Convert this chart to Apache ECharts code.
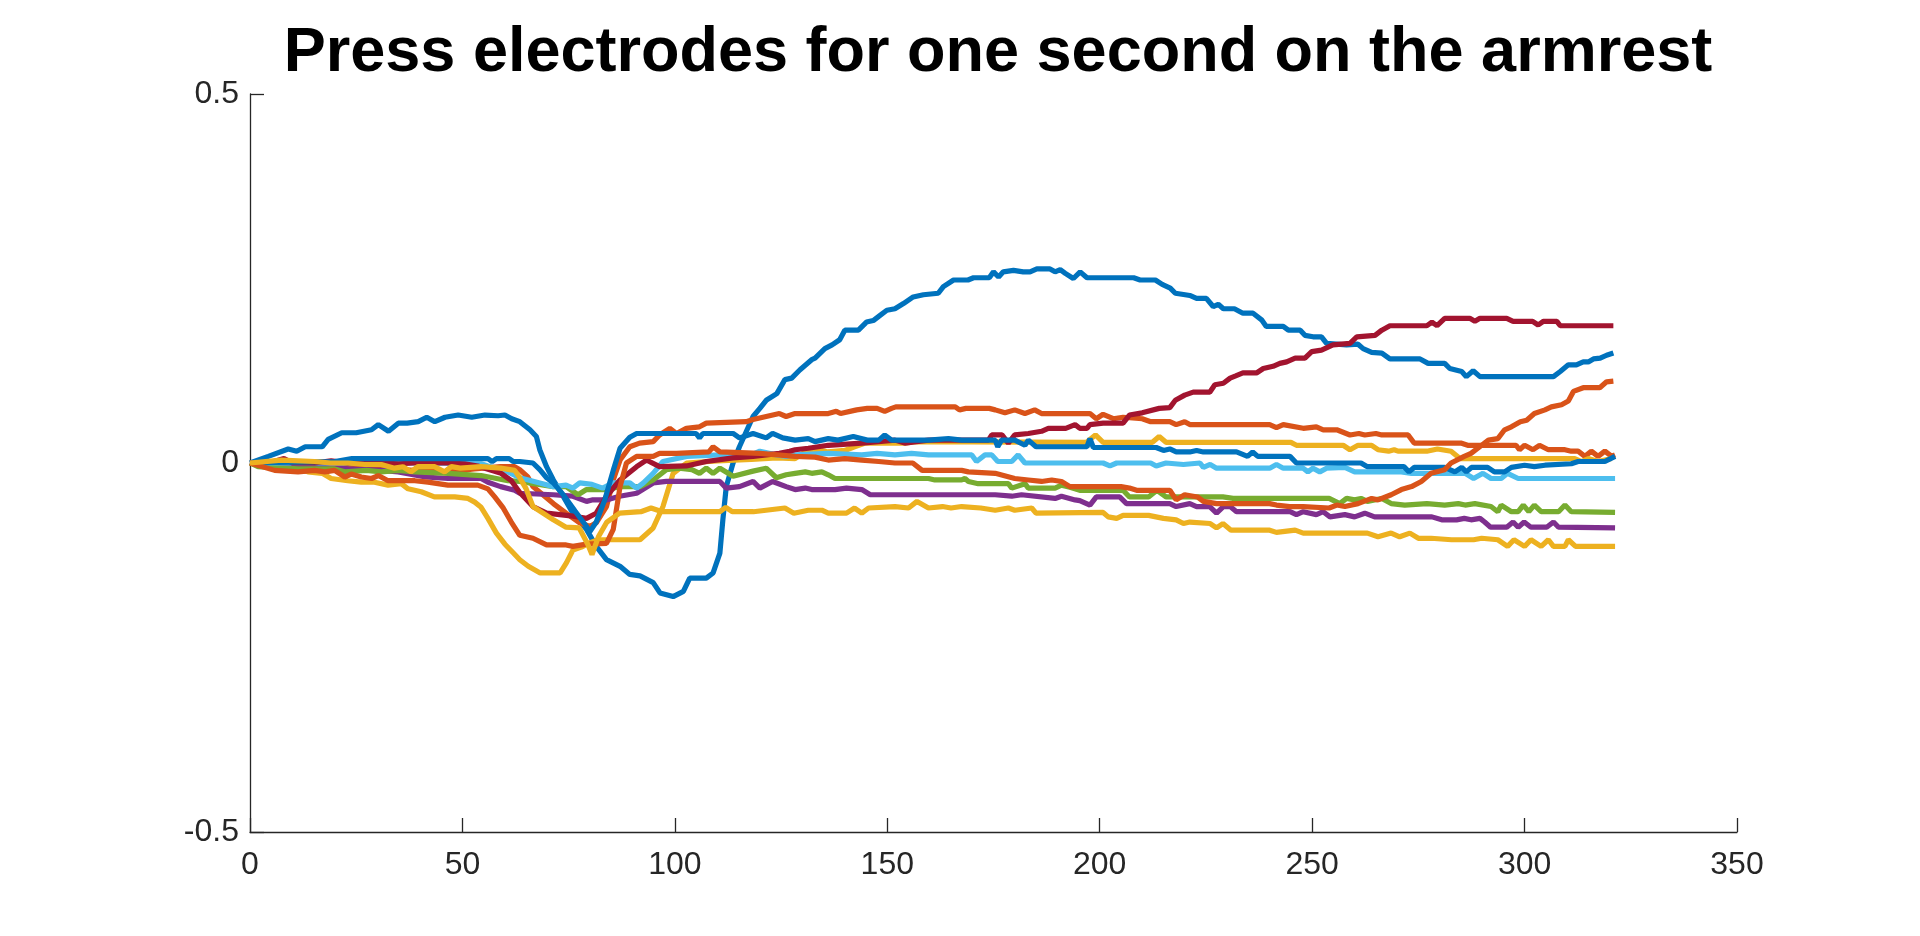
<!DOCTYPE html>
<html>
<head>
<meta charset="utf-8">
<script src="https://cdn.jsdelivr.net/npm/echarts@6/dist/echarts.min.js"></script>
<style>
  html, body { margin: 0; padding: 0; background: #fff; }
  #main { width: 1920px; height: 936px; }
</style>
</head>
<body>
<div id="main"></div>
<script>
// [x, y] points, one array per trace
const blueTop = [[0,0],[4.3,0.009],[9,0.019],[11,0.016],[13,0.022],[17,0.022],[18.4,0.032],[21.6,0.041],[25,0.041],[28.6,0.045],[30.2,0.052],[32.6,0.043],[34.9,0.054],[37,0.054],[39.6,0.056],[41.6,0.062],[43.5,0.056],[45.9,0.062],[49,0.065],[52.2,0.062],[55.3,0.065],[58.4,0.064],[60,0.065],[61.6,0.06],[63.5,0.056],[65.9,0.045],[67.4,0.036],[68.2,0.018],[69.8,-0.005],[71.4,-0.023],[73.7,-0.045],[76,-0.068],[79.2,-0.09],[81.5,-0.113],[83.9,-0.131],[87.1,-0.14],[89.4,-0.151],[91.8,-0.153],[94.9,-0.162],[96.5,-0.176],[99.6,-0.181],[102,-0.174],[103.5,-0.156],[107.4,-0.156],[109,-0.149],[110.6,-0.122],[111.3,-0.077],[112.1,-0.032],[113.7,0],[115.2,0.022],[118.4,0.063],[120,0.074],[121.5,0.085],[124,0.094],[125.9,0.113],[127.5,0.115],[129.4,0.126],[132.2,0.14],[133,0.142],[135.3,0.155],[137,0.16],[138.8,0.167],[140,0.18],[143.2,0.18],[145.1,0.191],[146.7,0.193],[148.3,0.2],[149.9,0.207],[151.8,0.209],[153.8,0.216],[156.1,0.225],[158.5,0.228],[162,0.23],[163.2,0.239],[165.6,0.248],[169,0.248],[170.3,0.251],[174,0.251],[175,0.259],[176.2,0.252],[177.3,0.259],[179.7,0.261],[182,0.259],[183.6,0.259],[185.2,0.263],[188.3,0.263],[189.5,0.259],[190.7,0.262],[191.9,0.257],[193.8,0.25],[195.4,0.259],[197,0.251],[208,0.251],[209.5,0.248],[213.1,0.248],[214.7,0.242],[216.6,0.237],[217.8,0.23],[220.1,0.228],[221.2,0.227],[222.8,0.223],[225.1,0.223],[226.7,0.212],[227.9,0.215],[229.1,0.209],[231.7,0.209],[233.7,0.203],[236.1,0.203],[238.1,0.194],[239.2,0.185],[243.2,0.185],[244.4,0.18],[247.2,0.18],[248.3,0.173],[250.2,0.171],[252.2,0.171],[253.4,0.162],[258.1,0.16],[260.8,0.161],[262,0.155],[264,0.15],[266.4,0.149],[268.3,0.141],[275.4,0.141],[277.3,0.135],[281.2,0.135],[282.4,0.128],[285.2,0.124],[286.3,0.117],[287.9,0.125],[289.5,0.117],[306.8,0.117],[308.4,0.124],[310.3,0.133],[312.2,0.133],[313.8,0.137],[315,0.137],[316.2,0.141],[317.8,0.142],[319.3,0.146],[320.9,0.149]];

const orangeUpper = [[0,0],[7.4,-0.005],[11,-0.008],[15,-0.005],[23,-0.005],[31,-0.008],[39,-0.01],[46.6,-0.012],[52.8,-0.008],[59,-0.005],[62.3,-0.005],[63.5,-0.009],[65.4,-0.019],[66.6,-0.032],[71.4,-0.055],[74.4,-0.068],[77.6,-0.081],[80,-0.086],[81.5,-0.081],[83.9,-0.059],[85.5,-0.023],[87.1,0.004],[89.4,0.022],[91.7,0.027],[94.9,0.029],[96.4,0.038],[98.8,0.047],[100.4,0.04],[102.7,0.047],[105.8,0.049],[107.4,0.054],[116.8,0.056],[118.4,0.059],[124.6,0.067],[126.2,0.063],[128.3,0.067],[136.1,0.067],[138,0.07],[139,0.067],[142.8,0.072],[145.3,0.074],[147.6,0.074],[149.4,0.07],[151,0.074],[152,0.076],[166,0.076],[167,0.072],[168.5,0.074],[174,0.074],[175.4,0.072],[177.7,0.068],[180,0.072],[182.4,0.067],[184.7,0.072],[186.3,0.067],[197.7,0.067],[199.2,0.06],[200.8,0.066],[203.2,0.06],[205.5,0.062],[210,0.06],[212,0.056],[216.5,0.056],[218,0.052],[220,0.056],[221.2,0.052],[240,0.052],[241.6,0.048],[243.2,0.052],[247.9,0.047],[251,0.049],[252.6,0.045],[255.8,0.045],[258.9,0.038],[261,0.04],[262.4,0.038],[265,0.04],[266.4,0.038],[272.6,0.038],[274,0.027],[285,0.027],[286.6,0.024],[298,0.024],[298.8,0.018],[300,0.024],[302,0.018],[303.5,0.024],[305.6,0.018],[309.5,0.018],[311,0.016],[312.6,0.016],[314.2,0.009],[315.7,0.016],[317.3,0.009],[318.9,0.016],[320.5,0.009],[321.3,0.011]];

const yellowDip = [[0,0],[7.4,0],[10.5,-0.007],[13.6,-0.012],[17,-0.014],[19.1,-0.021],[23,-0.024],[26.2,-0.026],[29.3,-0.026],[32.5,-0.03],[35.6,-0.028],[37.2,-0.035],[40.3,-0.039],[43.4,-0.046],[48.2,-0.046],[51.3,-0.048],[52.9,-0.053],[54.4,-0.06],[56,-0.075],[58,-0.095],[60,-0.11],[62,-0.122],[63.5,-0.131],[65.5,-0.14],[68.3,-0.149],[73,-0.149],[74.5,-0.135],[76,-0.118],[78,-0.114],[80,-0.108],[82,-0.104],[91.8,-0.104],[94.9,-0.088],[97.2,-0.059],[99.6,-0.014],[102.8,0],[110,0.003],[118,0.005],[124,0.007],[128.3,0.006],[130.7,0.015],[134.6,0.017],[136.1,0.015],[140,0.017],[142.3,0.022],[144.8,0.027],[154.1,0.027],[156.6,0.029],[196.9,0.028],[199,0.038],[200.8,0.028],[212.4,0.028],[214,0.036],[215.6,0.028],[245,0.028],[246.3,0.024],[257.3,0.024],[258.9,0.018],[260.8,0.024],[264,0.024],[265.5,0.018],[268,0.016],[269.3,0.018],[270.2,0.016],[277,0.016],[279.5,0.019],[282.7,0.016],[284.8,0.006],[311.8,0.006],[313.4,0.002],[315,0.006],[317.3,0.002],[320.5,0.006]];

const purple = [[0,0],[5,-0.002],[15.2,-0.003],[23.1,-0.008],[30.9,-0.01],[34.9,-0.012],[41.3,-0.019],[46.6,-0.021],[54.4,-0.021],[56,-0.026],[59,-0.032],[62.3,-0.037],[63.5,-0.041],[71.4,-0.043],[76,-0.045],[79.2,-0.052],[80.5,-0.05],[83.9,-0.05],[87,-0.045],[91,-0.041],[94.9,-0.027],[98,-0.025],[110.6,-0.025],[112.1,-0.034],[115.2,-0.032],[118.4,-0.025],[120,-0.034],[123,-0.025],[126.2,-0.032],[128.3,-0.036],[130.7,-0.034],[132.2,-0.036],[137.7,-0.036],[140.4,-0.034],[144,-0.036],[146,-0.043],[175.4,-0.043],[179.3,-0.045],[181.6,-0.043],[189.5,-0.048],[191,-0.045],[194.2,-0.05],[195.3,-0.051],[197.7,-0.057],[199.2,-0.046],[204.7,-0.046],[206.3,-0.055],[216.5,-0.055],[218,-0.059],[221.2,-0.055],[222.8,-0.059],[225.9,-0.059],[227.5,-0.068],[229.1,-0.059],[230.7,-0.059],[232.2,-0.066],[244.8,-0.066],[246.3,-0.07],[247.9,-0.066],[251,-0.07],[252.6,-0.066],[254.2,-0.073],[257.7,-0.07],[260,-0.073],[262.4,-0.068],[264.7,-0.073],[278.2,-0.073],[280.5,-0.077],[284,-0.077],[285.8,-0.075],[287.4,-0.077],[289.5,-0.075],[290.6,-0.08],[292,-0.087],[295.8,-0.087],[297.3,-0.08],[298.5,-0.087],[299.9,-0.08],[301.5,-0.087],[305.2,-0.087],[306.8,-0.08],[308,-0.087],[321.3,-0.088]];

const green = [[0,0],[1.9,-0.005],[11.3,-0.008],[19.9,-0.008],[22.3,-0.012],[27.4,-0.01],[30.9,-0.012],[34.9,-0.01],[38.8,-0.012],[46.6,-0.014],[54.4,-0.017],[60.7,-0.024],[63.5,-0.025],[71.4,-0.032],[74.4,-0.032],[77.2,-0.043],[79.2,-0.036],[83.9,-0.036],[87.1,-0.032],[91.8,-0.032],[94.9,-0.023],[98,-0.009],[101,-0.007],[104,-0.009],[105.8,-0.014],[107.4,-0.007],[109,-0.014],[110.6,-0.007],[113.7,-0.018],[118.4,-0.011],[121.5,-0.007],[123.9,-0.02],[126.2,-0.016],[128.3,-0.014],[130.7,-0.012],[132.2,-0.014],[134.6,-0.012],[136.1,-0.016],[137.7,-0.021],[159.7,-0.021],[161.2,-0.023],[167.5,-0.023],[168.3,-0.021],[169.1,-0.025],[171.4,-0.028],[178.5,-0.028],[179.3,-0.034],[182.4,-0.028],[183.2,-0.034],[189.5,-0.034],[191,-0.03],[193,-0.033],[195.3,-0.037],[205.5,-0.037],[207,-0.046],[211.5,-0.046],[213.5,-0.037],[215.6,-0.046],[229,-0.046],[231.4,-0.048],[254,-0.048],[256.5,-0.055],[258.1,-0.048],[260,-0.05],[261.5,-0.048],[263,-0.052],[266.4,-0.048],[268.6,-0.055],[271.8,-0.057],[277,-0.055],[281.2,-0.057],[284.4,-0.055],[286,-0.057],[288.3,-0.055],[292.1,-0.059],[293.7,-0.066],[294.5,-0.057],[296.9,-0.066],[298.5,-0.066],[299.7,-0.057],[301,-0.066],[302.3,-0.057],[303.9,-0.066],[308,-0.066],[309.5,-0.057],[311,-0.066],[321.3,-0.067]];

const lightBlue = [[0,0],[20,0],[40,0],[54.4,-0.001],[56,-0.004],[60.7,-0.012],[63.5,-0.02],[68.2,-0.027],[71.4,-0.032],[74.4,-0.03],[76,-0.034],[77.6,-0.027],[80.5,-0.029],[83,-0.034],[85.5,-0.027],[89.4,-0.027],[91,-0.034],[92.6,-0.027],[94.9,-0.014],[97.2,0.002],[102.8,0.009],[110.6,0.011],[118.4,0.012],[120,0.016],[123,0.012],[126.2,0.009],[128.3,0.011],[136.1,0.013],[144,0.011],[147.6,0.013],[151.8,0.011],[155.7,0.013],[159.7,0.011],[169.9,0.011],[171,0.002],[173,0.011],[174.6,0.011],[176,0.002],[179.3,0.002],[180.8,0.011],[182.4,0],[200.8,0],[202.4,-0.004],[204,0],[212,0],[213.3,-0.004],[215.6,0],[219.7,-0.002],[223.6,0],[224.4,-0.006],[226,-0.002],[227.5,-0.007],[240,-0.007],[241.6,-0.002],[243.2,-0.007],[247.9,-0.007],[249,-0.012],[250.2,-0.007],[251.8,-0.012],[253.4,-0.007],[257.7,-0.006],[260,-0.012],[271,-0.012],[273.4,-0.014],[286,-0.014],[288,-0.021],[290.2,-0.014],[292.1,-0.021],[294.5,-0.021],[296,-0.014],[298.5,-0.021],[321.3,-0.021]];

const darkRed = [[0,0],[5,0.001],[8,0.006],[10,0],[15.2,0],[19.1,0.003],[23,0],[26.6,0.003],[30.9,0],[35,-0.001],[38.8,0],[46.6,0],[50.5,-0.001],[53.6,-0.004],[56.8,-0.01],[59.1,-0.014],[61.5,-0.024],[63.5,-0.04],[66.6,-0.059],[69.8,-0.068],[72.9,-0.07],[76,-0.072],[79.2,-0.075],[81.5,-0.068],[83.9,-0.045],[87.1,-0.023],[91,-0.005],[93.3,0.004],[96.4,-0.005],[102.7,-0.004],[107.4,0.002],[113.7,0.007],[118.4,0.009],[124.6,0.013],[127,0.016],[128.3,0.018],[131.4,0.02],[136.1,0.024],[144,0.027],[147.9,0.029],[151.8,0.031],[154.1,0.027],[159.7,0.031],[173.8,0.031],[174.6,0.038],[177,0.038],[178.5,0.027],[180,0.038],[183.2,0.04],[186.3,0.043],[187.9,0.047],[192,0.047],[194.2,0.052],[195.3,0.047],[197,0.047],[197.7,0.052],[200.8,0.054],[205.5,0.054],[207,0.065],[210,0.068],[214,0.074],[216.5,0.075],[217.8,0.085],[220,0.092],[222,0.096],[225.9,0.096],[227.1,0.106],[229.1,0.108],[230.7,0.115],[232,0.118],[233.7,0.122],[236.9,0.122],[238.5,0.128],[240.8,0.131],[242.4,0.135],[244,0.137],[246,0.142],[248.3,0.142],[249.9,0.151],[252.2,0.153],[254.9,0.16],[258.9,0.162],[260.5,0.171],[264.8,0.173],[266.4,0.18],[268.3,0.186],[277,0.186],[278.2,0.191],[279.4,0.186],[281.2,0.196],[287.1,0.196],[288.3,0.192],[289.5,0.196],[295.8,0.196],[297.3,0.192],[301.9,0.192],[303.2,0.187],[304.4,0.192],[307.6,0.192],[308.4,0.186],[320.9,0.186]];

const blueFlat = [[0,0],[10,0.001],[20,0.002],[24,0.006],[56,0.006],[57,0.002],[58,0.006],[61,0.006],[62,0.002],[63.5,0.002],[66.6,0],[68.2,-0.009],[69.8,-0.02],[71.4,-0.027],[74,-0.045],[76.5,-0.065],[79.2,-0.086],[80,-0.093],[81.5,-0.08],[83.5,-0.05],[85.5,-0.01],[87.1,0.02],[89.4,0.035],[91,0.04],[105,0.04],[105.8,0.034],[106.6,0.04],[113.7,0.04],[115.2,0.034],[118.4,0.04],[121.5,0.034],[123,0.04],[125.4,0.034],[128.3,0.031],[131.4,0.033],[133,0.029],[136.1,0.033],[138.4,0.031],[142,0.036],[145.3,0.031],[148,0.031],[149.4,0.038],[151,0.031],[159.7,0.031],[164.4,0.033],[167.5,0.031],[175.4,0.031],[176,0.022],[176.9,0.031],[180,0.031],[182.4,0.024],[183.2,0.031],[185,0.022],[197,0.022],[197.7,0.033],[198.5,0.021],[213.3,0.021],[215,0.017],[216.5,0.019],[218,0.015],[221.2,0.015],[222.8,0.017],[224.4,0.015],[232.2,0.015],[234.8,0.009],[236,0.015],[237.2,0.009],[244.8,0.009],[246.3,0],[261.5,0],[263,-0.005],[271.6,-0.005],[272.8,-0.012],[274,-0.006],[281.2,-0.006],[283.6,-0.012],[285.2,-0.006],[286.3,-0.012],[287.5,-0.006],[291.3,-0.006],[292.9,-0.012],[295.3,-0.012],[296.9,-0.006],[300,-0.003],[302.3,-0.005],[304.8,-0.003],[311,-0.001],[312.6,0.002],[318.9,0.002],[321.3,0.009]];

const orangeLower = [[0,0],[5.8,-0.01],[11.3,-0.012],[15.2,-0.01],[17.6,-0.012],[19.9,-0.01],[22.3,-0.019],[23.8,-0.015],[26.2,-0.019],[28.6,-0.021],[30.2,-0.017],[32.5,-0.024],[38.8,-0.024],[41.9,-0.026],[46.6,-0.03],[53.6,-0.03],[56,-0.035],[57.6,-0.046],[59.5,-0.06],[61.5,-0.08],[63.5,-0.098],[66.6,-0.102],[69.8,-0.111],[74.4,-0.111],[76,-0.113],[79.2,-0.11],[83.9,-0.109],[85.5,-0.09],[87.1,-0.032],[88.6,0],[91,0.009],[94.9,0.009],[96.4,0.013],[100.4,0.013],[108,0.015],[109,0.022],[110.6,0.015],[120,0.013],[128.3,0.009],[133,0.008],[136.1,0.004],[140,0.006],[144,0.004],[148,0.002],[151.8,0],[156,0],[158.2,-0.01],[167.5,-0.01],[169.1,-0.012],[175.4,-0.014],[180,-0.021],[183.2,-0.023],[186.3,-0.025],[188.7,-0.023],[191,-0.025],[193,-0.032],[205,-0.032],[207,-0.034],[208.7,-0.037],[216.5,-0.037],[218,-0.05],[220,-0.043],[223,-0.046],[224.4,-0.052],[227.5,-0.055],[240,-0.055],[241.6,-0.057],[244.7,-0.059],[247.9,-0.059],[254,-0.061],[255.8,-0.057],[257.7,-0.059],[260.8,-0.055],[264,-0.048],[265.5,-0.05],[268.6,-0.043],[271,-0.036],[273.4,-0.032],[275.7,-0.025],[278,-0.014],[281.2,-0.009],[282.7,0],[285.8,0.009],[287.4,0.013],[289.9,0.024],[291.5,0.031],[293.7,0.033],[295.3,0.045],[296.9,0.049],[299,0.056],[300.5,0.058],[302.3,0.067],[304.8,0.072],[306.3,0.076],[308.7,0.079],[310.3,0.084],[311.5,0.097],[313.8,0.102],[317.7,0.102],[319.3,0.11],[320.9,0.111]];

const yellowFlat = [[0,0],[7.4,0.004],[15.2,0.002],[19,0],[23.1,0],[27,-0.002],[30.9,-0.002],[34,-0.007],[36,-0.005],[37.9,-0.012],[39.5,-0.005],[43.4,-0.005],[45.8,-0.012],[47.4,-0.005],[49.5,-0.007],[54.4,-0.005],[59,-0.007],[62.3,-0.01],[63.5,-0.02],[65,-0.035],[66.6,-0.059],[71.4,-0.077],[74.4,-0.087],[77.5,-0.088],[79.5,-0.11],[80.5,-0.124],[82,-0.1],[84,-0.08],[87,-0.068],[92,-0.066],[94.4,-0.061],[97,-0.066],[110.6,-0.066],[112,-0.06],[113.5,-0.066],[118.5,-0.066],[125.9,-0.061],[128,-0.068],[131.4,-0.064],[134.6,-0.064],[136.1,-0.068],[140.4,-0.068],[142.3,-0.061],[144,-0.068],[145.6,-0.061],[151.8,-0.059],[155,-0.061],[157,-0.052],[159.7,-0.061],[163,-0.059],[165,-0.061],[167.5,-0.059],[172,-0.061],[175.4,-0.064],[178.5,-0.061],[180,-0.064],[184,-0.061],[185,-0.068],[200.8,-0.067],[202,-0.073],[204,-0.075],[205.5,-0.071],[211.5,-0.071],[215,-0.075],[218,-0.077],[219.7,-0.082],[221.2,-0.08],[226,-0.082],[227.5,-0.088],[229,-0.082],[230.9,-0.091],[240,-0.091],[241.6,-0.094],[246,-0.091],[247.9,-0.095],[263,-0.095],[265.5,-0.1],[268.6,-0.095],[270.6,-0.1],[273,-0.095],[275,-0.102],[278,-0.102],[282.8,-0.104],[288,-0.104],[289.9,-0.102],[293.7,-0.104],[296,-0.113],[297.5,-0.104],[300,-0.113],[301.5,-0.104],[303.9,-0.113],[305.6,-0.104],[306.8,-0.113],[309.5,-0.113],[310.3,-0.104],[312,-0.113],[321.3,-0.113]];

const traces = [blueTop, orangeUpper, yellowDip, purple, green, lightBlue, darkRed, blueFlat, orangeLower, yellowFlat];
const colors = ['#0072BD', '#D95319', '#EDB120', '#7E2F8E', '#77AC30', '#4DBEEE', '#A2142F', '#0072BD', '#D95319', '#EDB120'];

const chart = echarts.init(document.getElementById('main'));
const font = '"Liberation Sans", Arial, Helvetica, sans-serif';
const axisColor = '#262626';

chart.setOption({
  animation: false,
  title: {
    text: 'Press electrodes for one second on the armrest',
    left: 993,
    top: 17,
    textAlign: 'center',
    textStyle: { fontFamily: font, fontSize: 63, fontWeight: 'bold', color: '#000' }
  },
  grid: { left: 250, right: 183, top: 94, bottom: 104 },
  xAxis: {
    type: 'value',
    min: 0, max: 350, interval: 50,
    axisLine: { onZero: false, lineStyle: { color: axisColor, width: 1.3 } },
    axisTick: { inside: true, length: 14, lineStyle: { color: axisColor, width: 1.3 } },
    axisLabel: { fontFamily: font, fontSize: 32, color: axisColor, margin: 17 },
    splitLine: { show: false }
  },
  yAxis: {
    type: 'value',
    min: -0.5, max: 0.5, interval: 0.5,
    axisLine: { show: true, onZero: false, lineStyle: { color: axisColor, width: 1.3 } },
    axisTick: { show: true, inside: true, length: 14, lineStyle: { color: axisColor, width: 1.3 } },
    axisLabel: { fontFamily: font, fontSize: 32, color: axisColor, margin: 11 },
    splitLine: { show: false }
  },
  series: traces.map((d, i) => ({
    type: 'line',
    data: d,
    showSymbol: false,
    lineStyle: { color: colors[i], width: 5.2 },
    itemStyle: { color: colors[i] }
  }))
});
</script>
</body>
</html>
